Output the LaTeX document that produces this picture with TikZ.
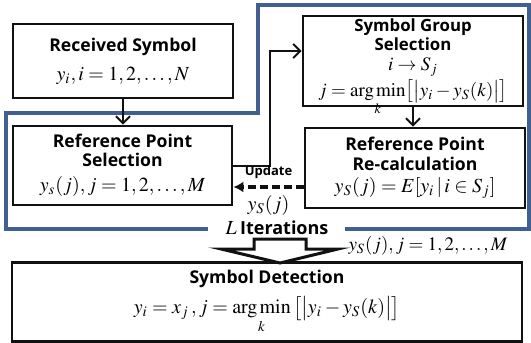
\documentclass[tikz,border=0pt]{standalone}
\usepackage{amsmath}
\usepackage{mathptmx}
\usepackage[no-math]{fontspec}
\setsansfont{Open Sans}
\usepackage{xcolor}
\definecolor{diagram-black}{HTML}{111111}
\definecolor{diagram-blue}{HTML}{41608F}
\usepackage{tikz}
\usetikzlibrary{arrows.meta}

\newcommand{\formula}[1]{{\fontsize{10}{11}\selectfont$#1$}}
\newcommand{\smallformula}[1]{{\fontsize{9.5}{10}\selectfont$#1$}}

\begin{document}
\begin{tikzpicture}[x=0.5pt, y=-0.5pt,
    box/.style={draw=diagram-black, line width=1.4pt, align=center, inner sep=0pt,
                font=\sffamily\bfseries\fontsize{8.8}{9.6}\selectfont},
    link/.style={draw=diagram-black, line width=1pt, -{Straight Barb[length=3.5pt, width=7pt]}},
    update/.style={draw=diagram-black, line width=1.8pt, dash pattern=on 4pt off 2pt,
                   -{Latex[length=5pt, width=5.5pt]}}]

    % Bounds
    \useasboundingbox (0, 0) rectangle (531, 343);

    % Iteration frame
    \draw[diagram-blue, line width=1.8pt] (208, 229) -- (6, 229) -- (6, 113) -- (258, 113)
                                          -- (258, 5) -- (529, 5) -- (529, 229) -- (345, 229);
    \node (iterations) at (277, 228) {\formula{L}\,\sffamily\bfseries\fontsize{9}{10}\selectfont Iterations};

    % Blocks
    \node[box, minimum width=110pt, minimum height=37pt] (received) at (123, 61)
        {Received Symbol\\[5pt]\formula{y_i, i=1,2,\ldots,N}};
    \node[box, minimum width=109.5pt, minimum height=39.5pt] (refsel) at (122.5, 165.5)
        {Reference Point\\Selection\\[3pt]\formula{y_s(j), j=1,2,\ldots,M}};
    \node[box, minimum width=110pt, minimum height=37pt, inner ysep=1.5pt,
          font=\sffamily\bfseries\fontsize{8.4}{9.4}\selectfont] (group) at (413, 61)
        {Symbol Group\\Selection\\[0.5pt]\smallformula{i\rightarrow S_j}\\[1pt]
         \smallformula{j=\smash[b]{\mathop{\mathrm{arg\,min}}\limits_{k}}\big[\big|y_i-y_S(k)\big|\big]}};
    \node[box, minimum width=110pt, minimum height=40pt] (recalc) at (415, 168)
        {Reference Point\\Re-calculation\\[1.5pt]\formula{y_S(j)=E[y_i\,|\,i\in S_j]}};
    \node[box, minimum width=255pt, minimum height=39.5pt] (detect) at (267, 302)
        {Symbol Detection\\[3.5pt]\formula{y_i=x_j\,, j=\mathop{\mathrm{arg\,min}}\limits_{k}\big[\big|y_i-y_S(k)\big|\big]}};

    % Output of the loop
    \node (points) at (428, 246) {\smallformula{y_S(j), j=1,2,\ldots,M}};
    \draw[diagram-black, line width=1.5pt, fill=white, line join=miter]
        (254, 239) -- (306, 239) -- (306, 249) -- (338, 249) -- (280, 263)
        -- (221, 249) -- (254, 249) -- cycle;

    % Connectors
    \draw[link] (received.south) -- (received.south |- refsel.north);
    \draw[link] (refsel.east) -- ++(37, 0) |- ([yshift=5pt]group.west);
    \draw[link] (group.south) -- (group.south |- recalc.north);
    \draw[update] ([yshift=-9.5pt]recalc.west) -- ([yshift=-9.5pt]recalc.west -| refsel.east)
        node[midway, above, font=\sffamily\bfseries\fontsize{6.5}{7}\selectfont] (updlabel) {Update}
        node[midway, below] (updvalue) {\formula{y_S(j)}};

\end{tikzpicture}
\end{document}
